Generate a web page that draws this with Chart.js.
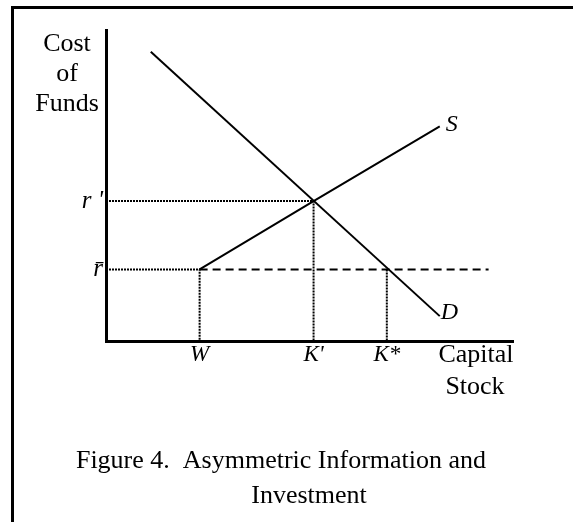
<!DOCTYPE html>
<html>
<head>
<meta charset="utf-8">
<script src="https://cdn.jsdelivr.net/npm/chart.js@4.4.1/dist/chart.umd.min.js"></script>
<style>
  html, body { margin: 0; padding: 0; background: #fff; overflow: hidden; }
  #wrap { position: relative; width: 573px; height: 522px; }
</style>
</head>
<body>
<div id="wrap"><canvas id="fig4" width="573" height="522"></canvas></div>
<script>
// ---- data (axis units 0..100) ----
var xTickVals   = [23, 51, 69];          // W, K', K*
var xTickLabels = ["W", "K'", "K*"];
var yTickVals   = [23, 45];              // r bar, r'
var yTickLabels = ["r\u0304", "r '"];

var demandX = [11, 82];
var demandY = [93, 8];
var supplyX = [23, 51, 82];
var supplyY = [23, 45, 69];
var dashEndX = 94;                       // end of dashed r-bar line

function pts(xs, ys) {
    return xs.map(function (x, i) { return { x: x, y: ys[i] }; });
}

var W = xTickVals[0], Kp = xTickVals[1], Ks = xTickVals[2];
var rbar = yTickVals[0], rp = yTickVals[1];

var serif = "'Liberation Serif', 'Times New Roman', serif";

// frame, axis titles, curve labels, caption
var textPlugin = {
    id: 'figText',
    afterDraw: function (chart) {
        var ctx = chart.ctx;
        var xs = chart.scales.x, ys = chart.scales.y;
        ctx.save();
        ctx.fillStyle = '#000';
        ctx.fillRect(11, 6, 600, 3);
        ctx.fillRect(11, 6, 3, 600);

        ctx.textAlign = 'center';
        ctx.textBaseline = 'alphabetic';
        ctx.font = '26px ' + serif;
        ctx.fillText('Cost', 67, 51);
        ctx.fillText('of', 67, 81);
        ctx.fillText('Funds', 67, 111);
        ctx.fillText('Capital', 476, 362);
        ctx.fillText('Stock', 475, 394);
        ctx.fillText('Figure 4.  Asymmetric Information and', 281, 468);
        ctx.fillText('Investment', 309, 503);

        ctx.font = 'italic 24px ' + serif;
        ctx.textAlign = 'left';
        ctx.textBaseline = 'middle';
        var sx = xs.getPixelForValue(supplyX[supplyX.length - 1]);
        var sy = ys.getPixelForValue(supplyY[supplyY.length - 1]);
        ctx.fillText('S', sx + 6, sy - 2);
        var dx = xs.getPixelForValue(demandX[1]);
        var dy = ys.getPixelForValue(demandY[1]);
        ctx.fillText('D', dx + 1, dy - 3);
        ctx.restore();
    }
};

var solid = { borderColor: '#000', borderWidth: 2, pointRadius: 0, showLine: true, fill: false };
var dotted = { borderColor: '#000', borderWidth: 2, pointRadius: 0, showLine: true, fill: false, borderDash: [2, 1] };

new Chart(document.getElementById('fig4'), {
    type: 'scatter',
    data: {
        datasets: [
            Object.assign({ data: pts(demandX, demandY) }, solid),
            Object.assign({ data: pts(supplyX, supplyY) }, solid),
            Object.assign({ data: pts([0, Kp, Kp], [rp, rp, 0]) }, dotted),
            Object.assign({ data: pts([0, W, W], [rbar, rbar, 0]) }, dotted),
            Object.assign({ data: pts([Ks, Ks], [rbar, 0]) }, dotted),
            Object.assign({ data: pts([W, dashEndX], [rbar, rbar]) }, solid, { borderDash: [8, 5] })
        ]
    },
    options: {
        responsive: false,
        animation: false,
        layout: { padding: { left: 76, right: 60, top: 30, bottom: 151 } },
        plugins: { legend: { display: false }, tooltip: { enabled: false } },
        scales: {
            x: {
                type: 'linear', min: 0, max: 100,
                grid: { display: false, drawTicks: false },
                border: { display: true, color: '#000', width: 3 },
                afterFit: function (s) { s.height = 30; },
                afterBuildTicks: function (s) { s.ticks = xTickVals.map(function (v) { return { value: v }; }); },
                ticks: {
                    autoSkip: false, maxRotation: 0, padding: 0, color: '#000',
                    font: { family: serif, size: 23, style: 'italic' },
                    callback: function (v, i) { return xTickLabels[i]; }
                }
            },
            y: {
                type: 'linear', min: 0, max: 100,
                grid: { display: false, drawTicks: false },
                border: { display: true, color: '#000', width: 3 },
                afterFit: function (s) { s.width = 30; },
                afterBuildTicks: function (s) { s.ticks = yTickVals.map(function (v) { return { value: v }; }); },
                ticks: {
                    autoSkip: false, padding: 3, color: '#000',
                    font: { family: serif, size: 25, style: 'italic' },
                    callback: function (v, i) { return yTickLabels[i]; }
                }
            }
        }
    },
    plugins: [textPlugin]
});
</script>
</body>
</html>
